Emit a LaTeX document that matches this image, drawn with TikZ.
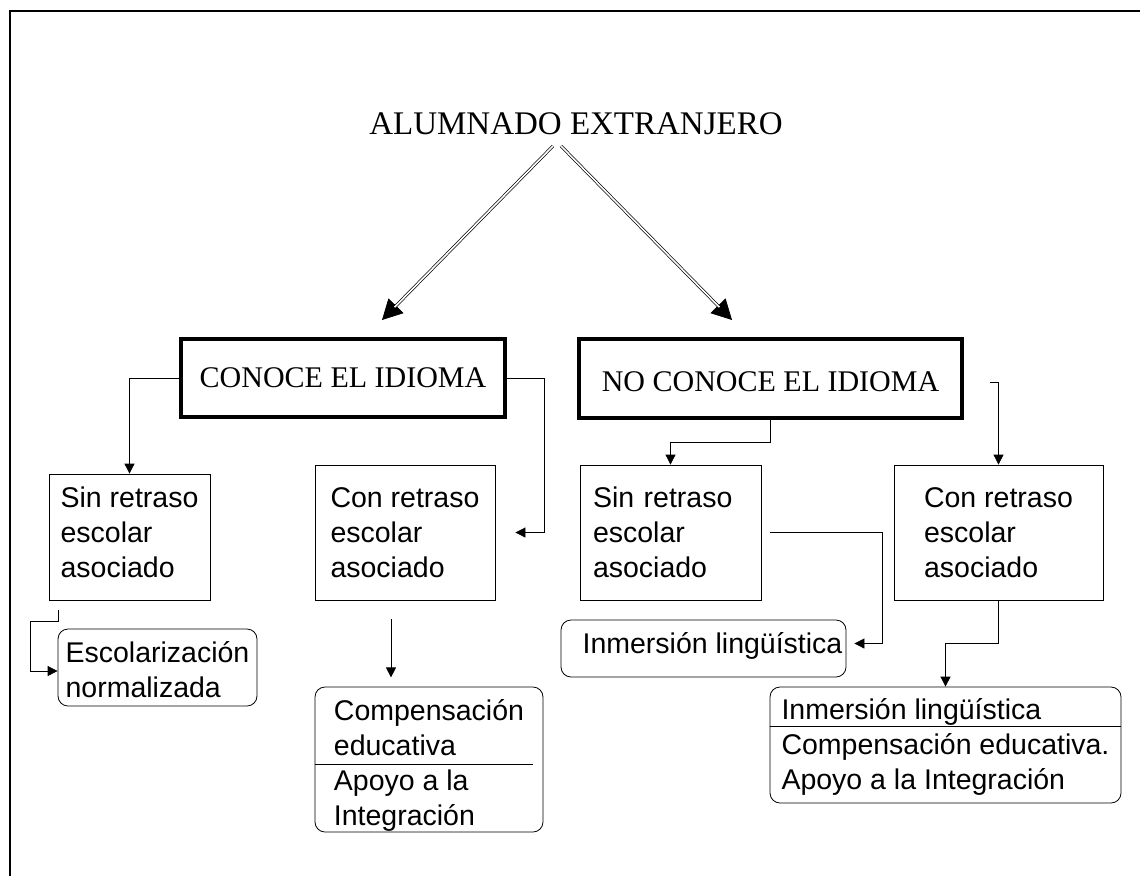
\documentclass[tikz,border=0pt]{standalone}
\usepackage{fontspec}
\setmainfont{Liberation Serif}
\setsansfont{Liberation Sans}
\usetikzlibrary{arrows.meta, calc}
\tikzset{conn/.style={-{Triangle[length=10pt, width=10pt]}, line width=0.8pt}}
\tikzset{bigarrow/.style={-{Triangle[length=20pt, width=21pt]}, line width=0.7pt,
    postaction={draw, -, double, double distance=1.6pt, line width=0.7pt, shorten >=18pt}}}
\tikzset{headbox/.style={draw, line width=3.5pt, inner sep=0pt,
    font=\fontsize{30}{36}\selectfont}}
\tikzset{plainbox/.style={draw, line width=0.8pt, align=left, inner sep=0pt,
    font=\sffamily\fontsize{28.5}{35}\selectfont}}
\tikzset{roundbox/.style={plainbox, rounded corners=10pt}}
% height of first line, depth of last line
\newcommand{\boxtext}[3]{\rule{0pt}{#1pt}#3\rule[-#2pt]{0pt}{#2pt}}

\begin{document}
\begin{tikzpicture}[x=1pt, y=-1pt]
      \useasboundingbox (0,0) rectangle (1140,876);
      % frame
      \draw[line width=2.7pt] (1140,11) -- (10,11) -- (10,876);
      \node[font=\fontsize{33}{40}\selectfont] (alum) at (576,124) {ALUMNADO EXTRANJERO};
      \node[headbox, minimum width=324pt, minimum height=78pt] (conoce) at (343,378) {CONOCE EL IDIOMA};
      \node[headbox, minimum width=383pt, minimum height=79pt] (noconoce) at (770.5,378.5) {\boxtext{27}{0}{NO CONOCE EL IDIOMA}};
      \coordinate (al) at (553,146);
      \coordinate (ar) at (561,146);
      \coordinate (cl) at (382,320);
      \coordinate (cr) at (732,320);
      \draw[bigarrow] (al) -- (cl);
      \draw[bigarrow] (ar) -- (cr);
      %%%%%%%%%
      \node[plainbox, minimum width=161pt, minimum height=126pt] (sin1) at (129.5,537) {\boxtext{22}{11}{Sin retraso\\escolar\\asociado}};
      \node[plainbox, minimum width=180pt, minimum height=135pt] (con1) at (405,532.5) {\boxtext{22}{2}{Con retraso\\escolar\\asociado}};
      \node[plainbox, minimum width=181pt, minimum height=135pt, text width=155pt] (sin2) at (670.5,532.5) {\boxtext{22}{2}{Sin retraso\\escolar\\asociado}};
      \node[plainbox, minimum width=209pt, minimum height=135pt] (con2) at (998.5,532.5) {\boxtext{22}{2}{Con retraso\\escolar\\asociado}};
      \node[roundbox, minimum width=199pt, minimum height=77pt] (escol) at (157.5,667.5) {\boxtext{27}{2}{Escolarización\\normalizada}};
      \node[roundbox, minimum width=228pt, minimum height=145pt] (comp1) at (429,759.5) {\boxtext{32}{6}{Compensación\\educativa\\Apoyo a la\\Integración}};
      \node[roundbox, minimum width=285pt, minimum height=57pt] (inm1) at (703.5,648.5) {\boxtext{22}{13}{\hspace*{18pt}Inmersión lingüística}};
      \node[roundbox, minimum width=351pt, minimum height=116pt] (final2) at (945.5,745) {\boxtext{27}{9}{Inmersión lingüística\\Compensación educativa.\\Apoyo a la Integración}};
      \draw[line width=0.8pt] ([yshift=-4.5pt]comp1.west) -- ([yshift=-4.5pt, xshift=-10pt]comp1.east);
      \draw[line width=0.8pt] ([yshift=19pt]final2.west) -- ([yshift=19pt]final2.east);
      %%%%%%%%%
      \draw[conn] (conoce.west) -| (sin1.north);
      \draw[conn] (conoce.east) -- ++(38,0) |- ([xshift=20pt]con1.east);
      \draw[conn] (noconoce.south) -- ++(0,23) -| (sin2.north);
      \draw[conn] ([xshift=26pt, yshift=-4pt]noconoce.east) -| (con2.north);
      \draw[conn] ([xshift=9pt]sin2.east) -- ++(112,0) |- ([xshift=8pt, yshift=5pt]inm1.east);
      \draw[conn] (con2.south) -- ++(0,43) -| (final2.north);
      \draw[conn] ([xshift=-71.5pt, yshift=-10pt]sin1.south) -- ++(0,11) -- ++(-28,0) |- ([yshift=-3.5pt]escol.west);
      \draw[conn] ([xshift=-14pt, yshift=-19pt]con1.south) -- ++(0,58);
    \end{tikzpicture}
\end{document}
